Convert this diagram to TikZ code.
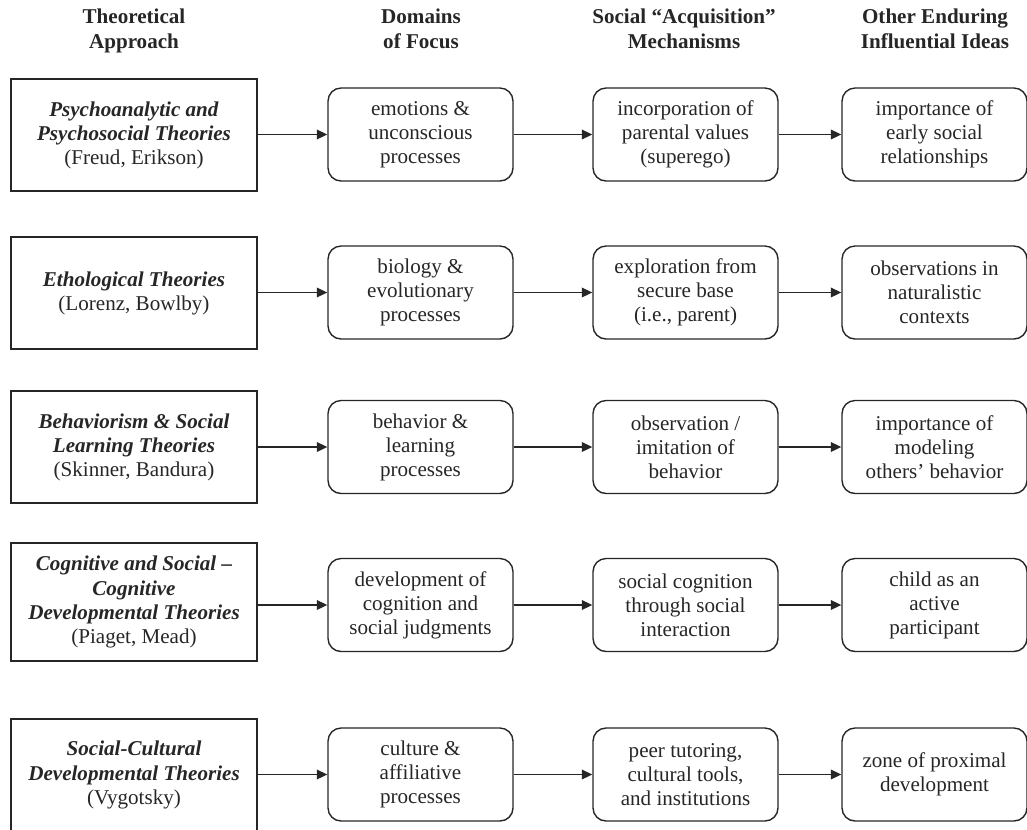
\documentclass[tikz,border=0pt]{standalone}
\usepackage{fontspec}
\setmainfont{Liberation Serif}
\usetikzlibrary{arrows.meta,positioning}

\begin{document}
\begin{tikzpicture}[x=0.02cm, y=-0.02cm,
        every node/.style={font=\fontsize{12}{13.7}\selectfont, text=black!85},
        theory/.style={rectangle, draw=black!85, line width=0.8pt, minimum width=4.92cm, minimum height=2.24cm, align=center, inner sep=2pt},
        idea/.style={rectangle, draw=black!85, line width=0.8pt, rounded corners=0.26cm, minimum width=3.7cm, minimum height=1.86cm, align=center, inner sep=2pt},
        head/.style={align=center, font=\fontsize{12}{14.2}\selectfont\bfseries, execute at begin node=\strut, execute at end node=\strut},
        arrow/.style={-{Triangle[length=6pt,width=5.5pt]}, draw=black!85, line width=0.8pt}]
        \useasboundingbox (0,0) rectangle (1027,829);

        % column headings
        \node[head] (h1) at (134,32) {Theoretical\\Approach};
        \node[head] (h2) at (421,32) {Domains\\of Focus};
        \node[head] (h3) at (684,32) {Social ``Acquisition''\\Mechanisms};
        \node[head] (h4) at (935,32) {Other Enduring\\Influential Ideas};

        % row 1
        \node[theory] (psy) at (134,135) {\textbf{\textit{Psychoanalytic and}}\\\textbf{\textit{Psychosocial Theories}}\\(Freud, Erikson)};
        \node[idea] (psyA) at (420.5,134.5) {emotions \&\\unconscious\\processes};
        \node[idea] (psyB) at (685.5,134.5) {incorporation of\\parental values\\(superego)};
        \node[idea] (psyC) at (934.5,134.5) {importance of\\early social\\relationships};

        % row 2
        \node[theory] (eth) at (134,293) {\textbf{\textit{Ethological Theories}}\\(Lorenz, Bowlby)};
        \node[idea] (ethA) at (420.5,292.5) {biology \&\\evolutionary\\processes};
        \node[idea] (ethB) at (685.5,292.5) {exploration from\\secure base\\(i.e., parent)};
        \node[idea] (ethC) at (934.5,292.5) {observations in\\naturalistic\\contexts};

        % row 3
        \node[theory] (beh) at (134,447) {\textbf{\textit{Behaviorism \& Social}}\\\textbf{\textit{Learning Theories}}\\(Skinner, Bandura)};
        \node[idea] (behA) at (420.5,447) {behavior \&\\learning\\processes};
        \node[idea] (behB) at (685.5,447) {observation /\\imitation of\\behavior};
        \node[idea] (behC) at (934.5,447) {importance of\\modeling\\others' behavior};

        % row 4
        \node[theory, minimum height=2.36cm] (cog) at (134,602) {\textbf{\textit{Cognitive and Social --}}\\\textbf{\textit{Cognitive}}\\\textbf{\textit{Developmental Theories}}\\(Piaget, Mead)};
        \node[idea] (cogA) at (420.5,605) {development of\\cognition and\\social judgments};
        \node[idea] (cogB) at (685.5,605) {social cognition\\through social\\interaction};
        \node[idea] (cogC) at (934.5,605) {child as an\\active\\participant};

        % row 5
        \node[theory] (soc) at (134,775) {\textbf{\textit{Social-Cultural}}\\\textbf{\textit{Developmental Theories}}\\(Vygotsky)};
        \node[idea] (socA) at (420.5,774.5) {culture \&\\affiliative\\processes};
        \node[idea] (socB) at (685.5,774.5) {peer tutoring,\\cultural tools,\\and institutions};
        \node[idea] (socC) at (934.5,774.5) {zone of proximal\\development};

        \draw[arrow] (psy.east |- psyA) -- (psyA);
        \draw[arrow] (psyA) -- (psyB);
        \draw[arrow] (psyB) -- (psyC);

        \draw[arrow] (eth.east |- ethA) -- (ethA);
        \draw[arrow] (ethA) -- (ethB);
        \draw[arrow] (ethB) -- (ethC);

        \draw[arrow] (beh.east |- behA) -- (behA);
        \draw[arrow] (behA) -- (behB);
        \draw[arrow] (behB) -- (behC);

        \draw[arrow] (cog.east |- cogA) -- (cogA);
        \draw[arrow] (cogA) -- (cogB);
        \draw[arrow] (cogB) -- (cogC);

        \draw[arrow] (soc.east |- socA) -- (socA);
        \draw[arrow] (socA) -- (socB);
        \draw[arrow] (socB) -- (socC);
    \end{tikzpicture}
\end{document}
